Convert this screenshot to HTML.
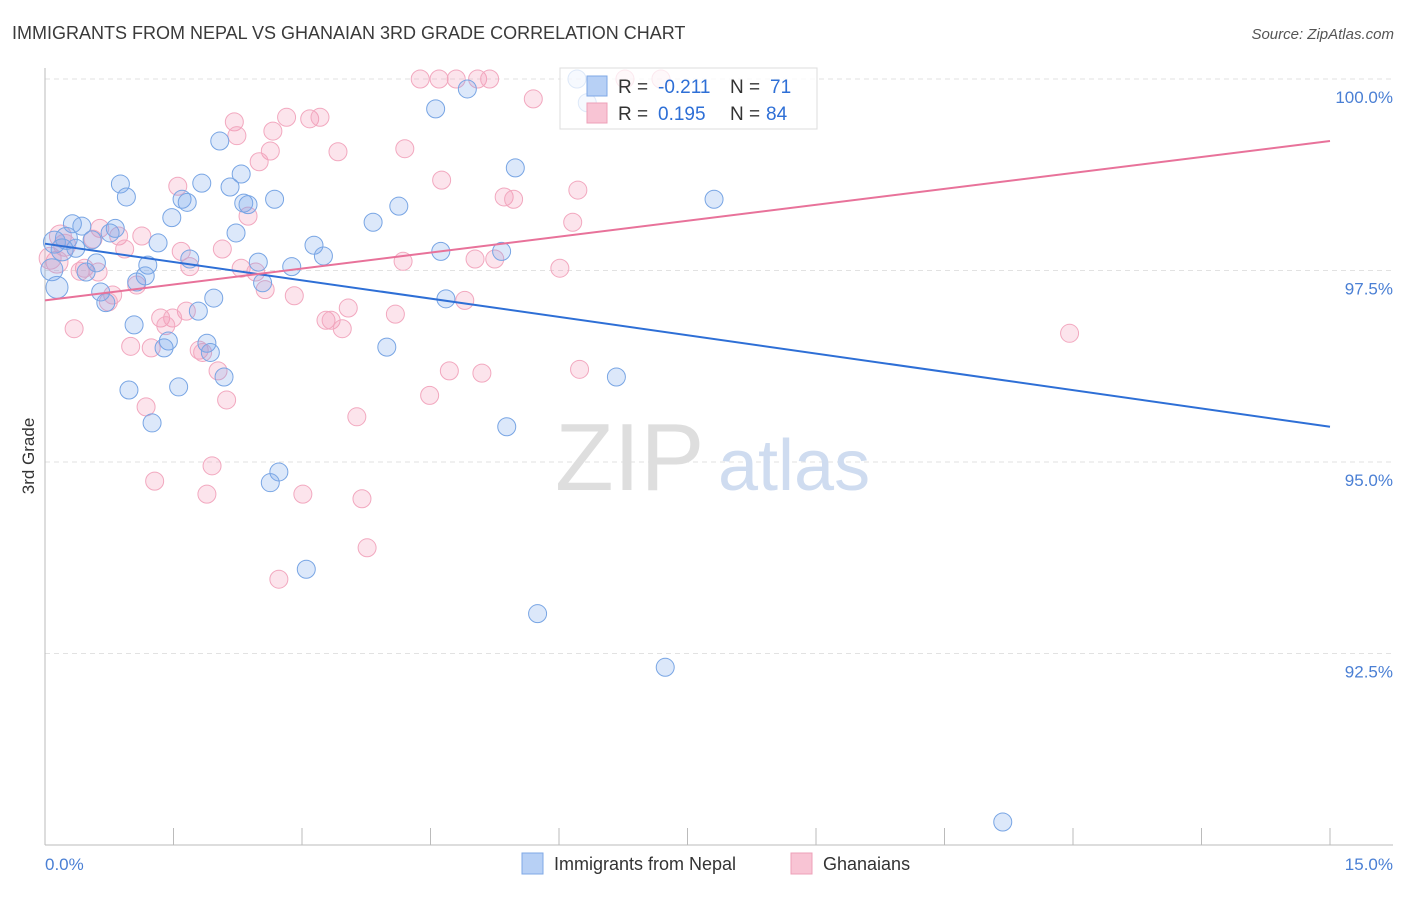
<!DOCTYPE html>
<html><head><meta charset="utf-8"><style>
body{margin:0;background:#fff;font-family:"Liberation Sans",sans-serif;}
svg text{font-family:"Liberation Sans",sans-serif;}
</style></head><body>
<svg id="chart" width="1406" height="892" viewBox="0 0 1406 892" xmlns="http://www.w3.org/2000/svg">
<text x="12" y="39" font-size="18" fill="#3a3a3a">IMMIGRANTS FROM NEPAL VS GHANAIAN 3RD GRADE CORRELATION CHART</text>
<text x="1394" y="39" font-size="15" fill="#555" text-anchor="end" font-style="italic">Source: ZipAtlas.com</text>
<g id="grid"></g>
<g>
<text x="555" y="490" font-size="96" font-family="Liberation Serif" fill="#dedede">ZIP</text>
<text x="718" y="490" font-size="72" fill="#cfdcf0">atlas</text>
</g>
<line x1="45" y1="68" x2="45" y2="845" stroke="#bbb"/>
<line x1="45" y1="845" x2="1393" y2="845" stroke="#bbb"/>
<g id="xticks"></g>
<text transform="translate(34,456) rotate(-90)" font-size="17" fill="#333" text-anchor="middle">3rd Grade</text>
<text x="45" y="870" font-size="17" fill="#4a7fd4">0.0%</text>
<text x="1393" y="870" font-size="17" fill="#4a7fd4" text-anchor="end">15.0%</text>
<g id="ylabels"></g>
<g id="pinkpts"></g>
<g id="bluepts"></g>
<g id="lines"></g>
<g>
<rect x="560" y="68" width="257" height="61" fill="#fff" fill-opacity="0.75" stroke="#ddd"/>
<rect x="587" y="76" width="20" height="20" fill="#b7d0f5" stroke="#7fa8e6"/>
<rect x="587" y="103" width="20" height="20" fill="#f8c4d4" stroke="#eea0b8"/>
<text x="618" y="93" font-size="19" fill="#333">R = </text>
<text x="658" y="93" font-size="19" fill="#2e6fd6">-0.211</text>
<text x="730" y="93" font-size="19" fill="#333">N = </text>
<text x="770" y="93" font-size="19" fill="#2e6fd6">71</text>
<text x="618" y="120" font-size="19" fill="#333">R = </text>
<text x="658" y="120" font-size="19" fill="#2e6fd6">0.195</text>
<text x="730" y="120" font-size="19" fill="#333">N = </text>
<text x="766" y="120" font-size="19" fill="#2e6fd6">84</text>
</g>
<g>
<rect x="522" y="853" width="21" height="21" fill="#b7d0f5" stroke="#7fa8e6"/>
<text x="554" y="870" font-size="18" fill="#333">Immigrants from Nepal</text>
<rect x="791" y="853" width="21" height="21" fill="#f8c4d4" stroke="#eea0b8"/>
<text x="823" y="870" font-size="18" fill="#333">Ghanaians</text>
</g>
</svg>
<script>
const blueX=[6.21,6.33,4.93,4.56,5.49,7.81,0.88,0.95,1.60,1.66,1.83,2.16,2.29,2.32,2.37,2.68,2.04,3.83,4.13,1.48,0.32,0.43,0.82,0.76,0.25,0.55,0.11,1.32,0.36,0.20,2.23,3.14,3.25,4.62,5.33,1.69,2.49,2.88,1.20,0.60,0.48,1.17,0.08,0.14,1.07,2.54,0.65,0.71,1.97,4.68,1.79,1.04,1.44,1.39,1.89,1.93,3.99,2.09,6.67,0.98,1.56,1.25,5.39,2.73,2.63,3.05,5.75,7.24,11.18];
const blueY=[100.00,99.69,99.87,99.61,98.84,98.43,98.63,98.46,98.43,98.39,98.64,98.59,98.76,98.38,98.36,98.43,99.19,98.13,98.34,98.19,98.11,98.08,98.05,97.99,97.92,97.90,97.87,97.86,97.79,97.77,97.99,97.83,97.69,97.75,97.75,97.65,97.61,97.55,97.57,97.60,97.48,97.43,97.51,97.28,97.35,97.34,97.22,97.08,97.14,97.13,96.97,96.79,96.58,96.49,96.55,96.43,96.50,96.11,96.11,95.94,95.98,95.51,95.46,94.87,94.73,93.60,93.02,92.32,90.30];
const pinkX=[4.38,4.60,4.80,5.05,5.19,7.19,6.77,5.70,2.82,3.09,3.21,2.21,2.66,2.24,2.63,4.20,3.42,2.50,4.63,6.22,1.55,5.36,5.47,2.37,6.16,0.18,0.64,1.13,0.86,0.56,0.23,0.93,1.59,2.07,4.18,5.02,5.25,6.01,0.46,0.41,1.69,2.29,2.46,0.62,0.79,1.07,2.57,2.91,0.74,1.65,4.90,3.54,4.09,3.28,3.34,1.35,1.49,1.41,3.47,0.34,1.00,1.24,1.80,1.84,2.02,4.72,5.10,6.24,4.49,2.12,1.18,3.64,1.95,1.28,1.89,3.01,3.70,3.76,2.73,11.96,0.14,0.06];
const pinkY=[100,100,100,100,100,100,100,99.74,99.50,99.48,99.50,99.44,99.32,99.26,99.06,99.09,99.05,98.92,98.68,98.55,98.60,98.46,98.43,98.21,98.13,97.95,98.05,97.95,97.95,97.91,97.83,97.78,97.75,97.78,97.62,97.65,97.65,97.53,97.53,97.49,97.55,97.53,97.48,97.48,97.18,97.31,97.25,97.17,97.09,96.97,97.11,97.01,96.93,96.85,96.85,96.88,96.88,96.78,96.74,96.74,96.51,96.49,96.46,96.43,96.19,96.19,96.16,96.21,95.87,95.81,95.72,95.59,94.95,94.75,94.58,94.58,94.52,93.88,93.47,96.68,97.61,97.66];
const blueTrend=[97.85,95.46];
const pinkTrend=[97.11,99.19];
const yTicks=[100,97.5,95,92.5];
const yTickLabels=["100.0%","97.5%","95.0%","92.5%"];
const NS="http://www.w3.org/2000/svg";
const sx=v=>45+v/15*1285;
const sy=v=>79+(100-v)/2.5*191.5;
function mk(tag,attrs,parent){const e=document.createElementNS(NS,tag);for(const k in attrs)e.setAttribute(k,attrs[k]);document.getElementById(parent).appendChild(e);return e;}
yTicks.forEach((t,i)=>{
 const g=mk('line',{x1:45,x2:1393,y1:sy(t),y2:sy(t),stroke:'#e2e2e2','stroke-dasharray':'5,4'},'grid');
 
 
 const l=mk('text',{x:1393,y:sy(t)+24,'font-size':17,fill:'#4a7fd4','text-anchor':'end'},'ylabels');
 l.textContent=yTickLabels[i];
 
 
});
for(let i=0;i<=10;i++){
 const t=mk('line',{x1:sx(i*1.5),x2:sx(i*1.5),y1:828,y2:845,stroke:'#bbb'},'xticks');
 
 
}
function pts(X,Y,parent,fill,stroke,name){
 X.forEach((x,i)=>{
  const big=x<0.3;
  const c=mk('circle',{cx:sx(x),cy:sy(Y[i]),r:big?11:9,fill:fill,stroke:stroke,'stroke-width':1},parent);
  
  
 });
}
pts(pinkX,pinkY,'pinkpts','rgba(245,150,180,0.26)','#f2a8bf','ghanaians-point');
pts(blueX,blueY,'bluepts','rgba(120,165,235,0.26)','#78a5e4','nepal-point');
const bl=mk('line',{x1:sx(0),y1:sy(blueTrend[0]),x2:sx(15),y2:sy(blueTrend[1]),stroke:'#2e6fd6','stroke-width':2},'lines');


const pl=mk('line',{x1:sx(0),y1:sy(pinkTrend[0]),x2:sx(15),y2:sy(pinkTrend[1]),stroke:'#e8729a','stroke-width':2},'lines');


</script>
</body></html>
